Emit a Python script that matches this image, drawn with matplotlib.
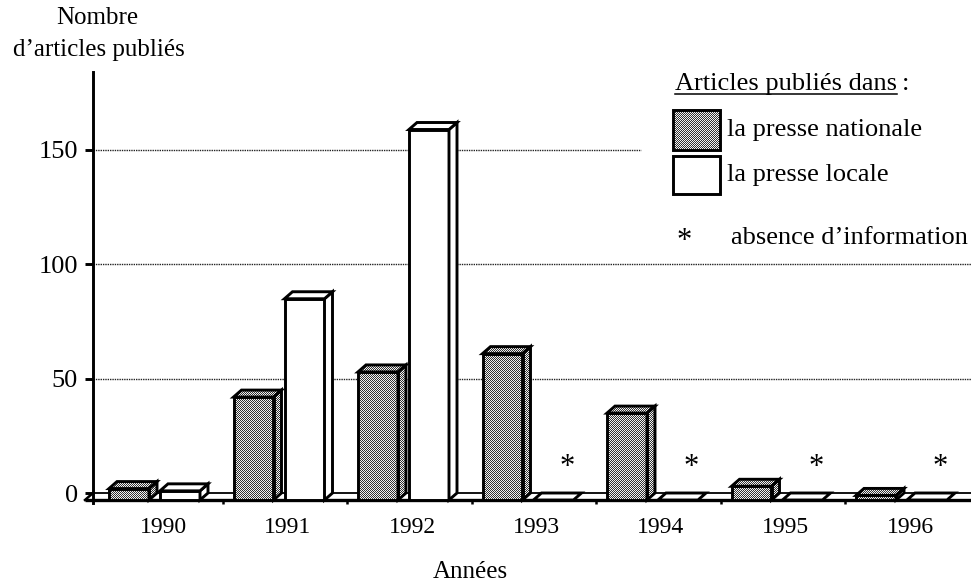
import numpy as np
import matplotlib
matplotlib.use("Agg")
import matplotlib.pyplot as plt
from matplotlib.patches import Polygon, Rectangle

# ---- data -------------------------------------------------------------
years = ["1990", "1991", "1992", "1993", "1994", "1995", "1996"]
presse_nationale = [5, 45, 56, 64, 38, 6, 2]
presse_locale = [4, 88, 162, None, None, None, None]   # None = absence d'information
y_ticks = [0, 50, 100, 150]

# ---- figure & axes geometry (pixels) -----------------------------------
W, H, DPI = 971, 585, 100
fig = plt.figure(figsize=(W / DPI, H / DPI), dpi=DPI)
fig.patch.set_facecolor("white")
plt.rcParams["font.family"] = ["Liberation Serif", "DejaVu Serif"]

AX_L, AX_R, AX_T, AX_B = 93, 971, 60, 510
PX_X = 124.5       # pixels per year
PX_Y = 2.287       # pixels per article
X0_PX, Y0_PX = 163, 493

ax = fig.add_axes([AX_L / W, 1 - AX_B / H, (AX_R - AX_L) / W, (AX_B - AX_T) / H])
XLIM = ((AX_L - X0_PX) / PX_X, (AX_R - X0_PX) / PX_X)
YLIM = ((Y0_PX - AX_B) / PX_Y, (Y0_PX - AX_T) / PX_Y)

# 3-D depth of the bars, bar width and offsets inside a year group
DX = 8 / PX_X
DY = 7 / PX_Y
BW = 40 / PX_X
OFF_NAT = -54 / PX_X
OFF_LOC = -3 / PX_X

EDGE = "black"
LW = 2.1
FS_TICK = 19
FS_YEAR = 17
FS_TITLE = 18
FS_LEG = 19


def stipple(shape):
    """Fine dither pattern used for the 'presse nationale' fill."""
    h, w = shape
    i, j = np.mgrid[0:h, 0:w]
    chk = (i + j) % 2
    img = np.empty((h, w, 3))
    dark, light = 0.2, 0.95
    img[...] = np.where(chk[..., None] == 1, dark, light)
    return img


ax_img = stipple((AX_B - AX_T, AX_R - AX_L))


def bar_faces(x0, v):
    front = [(x0, -DY), (x0 + BW, -DY), (x0 + BW, v - DY), (x0, v - DY)]
    top = [(x0, v - DY), (x0 + BW, v - DY), (x0 + BW + DX, v), (x0 + DX, v)]
    side = [(x0 + BW, -DY), (x0 + BW + DX, 0), (x0 + BW + DX, v), (x0 + BW, v - DY)]
    outline = [(x0, -DY), (x0 + BW, -DY), (x0 + BW + DX, 0), (x0 + BW + DX, v),
               (x0 + DX, v), (x0, v - DY)]
    return front, top, side, outline


def draw_bar(x0, v, stippled):
    front, top, side, outline = bar_faces(x0, v)
    if stippled:
        clip = Polygon(outline, closed=True, transform=ax.transData,
                       facecolor="none", edgecolor="none")
        im = ax.imshow(ax_img, extent=(XLIM[0], XLIM[1], YLIM[0], YLIM[1]),
                       origin="upper", aspect="auto", interpolation="nearest",
                       zorder=3)
        im.set_clip_path(clip)
        fc = "none"
    else:
        fc = "white"
    for face in (front, side, top):
        ax.add_patch(Polygon(face, closed=True, facecolor=fc, edgecolor=EDGE,
                             linewidth=LW, joinstyle="miter", zorder=4))


def draw_flat(x0):
    flat = [(x0, -DY), (x0 + BW, -DY), (x0 + BW + DX, 0), (x0 + DX, 0)]
    ax.add_patch(Polygon(flat, closed=True, facecolor="white", edgecolor=EDGE,
                         linewidth=LW, zorder=4))


# ---- grid lines on the back wall --------------------------------------
grid_kw = dict(colors="#222222", linewidth=1.0, linestyles=(0, (1.0, 0.7)), zorder=1)
ax.hlines([50, 100], XLIM[0], XLIM[1], **grid_kw)
ax.hlines([150], XLIM[0], (641 - X0_PX) / PX_X, **grid_kw)

# ---- floor slab ---------------------------------------------------------
ax.plot([XLIM[0], XLIM[1]], [0, 0], color=EDGE, lw=1.3, zorder=2, clip_on=False)
ax.plot([XLIM[0] - DX, XLIM[1]], [-DY, -DY], color=EDGE, lw=2.4, zorder=2,
        clip_on=False, solid_capstyle="butt")
ax.plot([XLIM[0] - DX, XLIM[0]], [-DY, 0], color=EDGE, lw=1.8, zorder=2, clip_on=False)

# separators between years, under the floor
sep = [k + 0.48 for k in range(len(years) - 1)]
ax.vlines(sep, -4.6, -DY, colors=EDGE, linewidth=1.8, zorder=2, clip_on=False)

# ---- bars -------------------------------------------------------------
x = np.arange(len(years))
for k in x:
    draw_bar(k + OFF_NAT, presse_nationale[k], stippled=True)
    loc = presse_locale[k]
    if loc is None:
        draw_flat(k + OFF_LOC)
        ax.text(k + 30.5 / PX_X, (Y0_PX - 468) / PX_Y, "*", ha="center",
                va="center", fontsize=22, zorder=5)
    else:
        draw_bar(k + OFF_LOC, loc, stippled=False)

# ---- axes styling -------------------------------------------------------
ax.set_xlim(*XLIM)
ax.set_ylim(*YLIM)
for s in ("top", "right", "bottom"):
    ax.spines[s].set_visible(False)
ax.spines["left"].set_bounds(-4.4, (Y0_PX - 72) / PX_Y)
ax.spines["left"].set_linewidth(LW)
ax.set_yticks(y_ticks)
ax.set_yticklabels([str(t) for t in y_ticks], fontsize=FS_TICK)
ax.tick_params(axis="y", direction="out", length=5.8, width=LW, pad=5.0)
ax.set_xticks(x)
ax.set_xticklabels(years, fontsize=FS_YEAR)
ax.tick_params(axis="x", length=0, pad=5)
ax.set_facecolor("none")


def fx(px):
    return px / W


def fy(py):
    return 1 - py / H


# ---- titles -----------------------------------------------------------
fig.text(fx(97), fy(18), "Nombre", ha="center", va="center", fontsize=FS_TITLE)
fig.text(fx(99), fy(50), "d\u2019articles publiés", ha="center", va="center",
         fontsize=FS_TITLE)
fig.text(fx(470), fy(572), "Années", ha="center", va="center", fontsize=FS_TITLE)

# ---- legend -----------------------------------------------------------
lg = fig.add_axes([0, 0, 1, 1])
lg.set_xlim(0, W)
lg.set_ylim(H, 0)
lg.axis("off")
lg.patch.set_alpha(0)

title = lg.text(675, 84, "Articles publiés dans", ha="left", va="center", fontsize=FS_LEG)
fig.canvas.draw()
bb = title.get_window_extent(renderer=fig.canvas.get_renderer())
x1 = bb.x1
lg.plot([675, x1], [94, 94], color=EDGE, lw=1.1)
lg.text(x1 + 5, 84, ":", ha="left", va="center", fontsize=FS_LEG)

lg.add_patch(Rectangle((673, 110), 47, 40, facecolor="none", edgecolor=EDGE,
                       linewidth=LW, zorder=4))
full_img = stipple((H, W))
im = lg.imshow(full_img, extent=(0, W, H, 0), origin="upper", aspect="auto",
               interpolation="nearest", zorder=3)
im.set_clip_path(Rectangle((673, 110), 47, 40, transform=lg.transData))
lg.set_xlim(0, W)
lg.set_ylim(H, 0)
lg.add_patch(Rectangle((673, 156), 47, 38, facecolor="white", edgecolor=EDGE,
                       linewidth=LW, zorder=4))
lg.text(727, 130, "la presse nationale", ha="left", va="center", fontsize=FS_LEG)
lg.text(727, 175, "la presse locale", ha="left", va="center", fontsize=FS_LEG)
lg.text(684, 242, "*", ha="center", va="center", fontsize=22)
lg.text(731, 238, "absence d\u2019information", ha="left", va="center", fontsize=FS_LEG)

fig.savefig("out.png", dpi=DPI, facecolor="white")
